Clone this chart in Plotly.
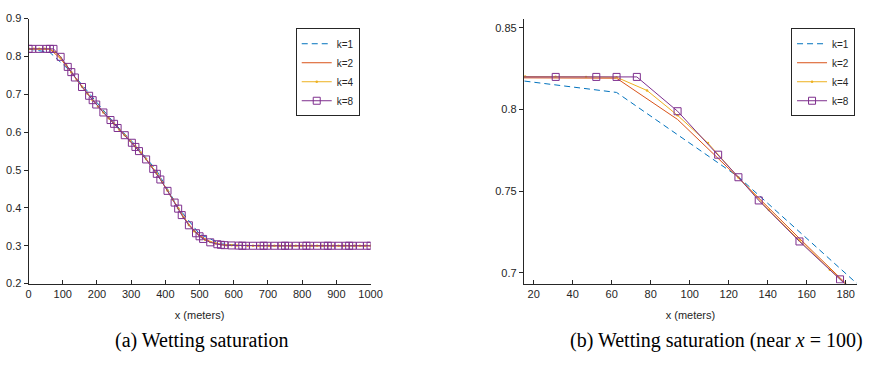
import plotly.graph_objects as go

# ---------------- data ----------------
x_k1 = [0, 62.5, 125, 187.5, 250, 312.5, 375, 437.5, 500, 562.5, 625, 687.5,
        750, 812.5, 875, 937.5, 1000]
y_k1 = [0.8197, 0.8105, 0.7588, 0.6905, 0.6245, 0.566, 0.498, 0.401, 0.331,
        0.305, 0.3008, 0.3002, 0.300, 0.300, 0.300, 0.300, 0.300]

x_k2 = [0, 31.25, 62.5, 93.75, 125, 156.25, 187.5, 218.75, 250, 281.25, 312.5,
        343.75, 375, 406.25, 437.5, 468.75, 500, 531.25, 562.5, 593.75, 625,
        656.25, 687.5, 718.75, 750, 781.25, 812.5, 843.75, 875, 906.25, 937.5,
        968.75, 1000]
y_k2 = [0.8195, 0.8195, 0.8192, 0.7940, 0.7582, 0.7212, 0.6850, 0.6525, 0.6225,
        0.5925, 0.5625, 0.529, 0.4915, 0.446, 0.399, 0.356, 0.327, 0.311,
        0.3035, 0.301, 0.3003, 0.300, 0.300, 0.300, 0.300, 0.300, 0.300, 0.300,
        0.300, 0.300, 0.300, 0.300, 0.300]

x_k4 = [0, 15.625, 31.25, 46.875, 62.5, 78.125, 93.75, 109.375, 125, 140.625,
        156.25, 171.875, 187.5, 203.125, 218.75, 234.375, 250, 265.625, 281.25,
        296.875, 312.5, 328.125, 343.75, 359.375, 375, 390.625, 406.25, 421.875,
        437.5, 453.125, 468.75, 484.375, 500, 515.625, 531.25, 546.875, 562.5,
        578.125, 593.75, 609.375, 625, 640.625, 656.25, 671.875, 687.5, 703.125,
        718.75, 734.375, 750, 765.625, 781.25, 796.875, 812.5, 828.125, 843.75,
        859.375, 875, 890.625, 906.25, 921.875, 937.5, 953.125, 968.75, 984.375,
        1000]
y_k4 = [0.8203, 0.8203, 0.8201, 0.8200, 0.8198, 0.8117, 0.7965, 0.7795, 0.7585,
        0.7385, 0.7200, 0.7020, 0.6845, 0.668, 0.652, 0.637, 0.622, 0.6065,
        0.592, 0.577, 0.562, 0.546, 0.529, 0.510, 0.491, 0.468, 0.446, 0.422,
        0.399, 0.375, 0.355, 0.338, 0.326, 0.316, 0.310, 0.306, 0.303, 0.3015,
        0.301, 0.3005, 0.3003, 0.300, 0.300, 0.300, 0.300, 0.300, 0.300, 0.300,
        0.300, 0.300, 0.300, 0.300, 0.300, 0.300, 0.300, 0.300, 0.300, 0.300,
        0.300, 0.300, 0.300, 0.300, 0.300, 0.300, 0.300]

x_k8 = [0, 10.4, 31.3, 52.1, 62.5, 72.9, 93.8, 114.6, 125, 135.4, 156.3, 177.1,
        187.5, 197.9, 218.8, 239.6, 250, 260.4, 281.3, 302.1, 312.5, 322.9,
        343.8, 364.6, 375, 385.4, 406.3, 427.1, 437.5, 447.9, 468.8, 489.6, 500,
        510.4, 531.3, 552.1, 562.5, 572.9, 593.8, 614.6, 625, 635.4, 656.3,
        677.1, 687.5, 697.9, 718.8, 739.6, 750, 760.4, 781.3, 802.1, 812.5,
        822.9, 843.8, 864.6, 875, 885.4, 906.3, 927.1, 937.5, 947.9, 968.8,
        989.6, 1000]
y_k8 = [0.820, 0.820, 0.820, 0.820, 0.820, 0.820, 0.799, 0.7724, 0.7586, 0.7444,
        0.7193, 0.6961, 0.6845, 0.673, 0.652, 0.632, 0.622, 0.611, 0.592, 0.572,
        0.561, 0.550, 0.528, 0.503, 0.490, 0.475, 0.445, 0.414, 0.398, 0.381,
        0.354, 0.333, 0.325, 0.318, 0.309, 0.304, 0.3025, 0.3015, 0.3008,
        0.3004, 0.300, 0.300, 0.300, 0.300, 0.300, 0.300, 0.300, 0.300, 0.300,
        0.300, 0.300, 0.300, 0.300, 0.300, 0.300, 0.300, 0.300, 0.300, 0.300,
        0.300, 0.300, 0.300, 0.300, 0.300, 0.300]

series_names = ["k=1", "k=2", "k=4", "k=8"]
colors = ["#0072BD", "#D95319", "#EDB120", "#7E2F8E"]

left_xticks = [0, 100, 200, 300, 400, 500, 600, 700, 800, 900, 1000]
left_yticks = [0.2, 0.3, 0.4, 0.5, 0.6, 0.7, 0.8, 0.9]
left_ytext = ["0.2", "0.3", "0.4", "0.5", "0.6", "0.7", "0.8", "0.9"]
right_xticks = [20, 40, 60, 80, 100, 120, 140, 160, 180]
right_yticks = [0.7, 0.75, 0.8, 0.85]
right_ytext = ["0.7", "0.75", "0.8", "0.85"]

caption_a = "(a) Wetting saturation"
caption_b = "(b) Wetting saturation (near <i>x</i> = 100)"
xlabel = "x (meters)"

# ---------------- figure ----------------
fig = go.Figure()
data = [(x_k1, y_k1), (x_k2, y_k2), (x_k4, y_k4), (x_k8, y_k8)]

def add_series(xa, ya, legend):
    for i, (xs, ys) in enumerate(data):
        kw = dict(x=xs, y=ys, name=series_names[i], xaxis=xa, yaxis=ya,
                  legend=legend, mode="lines",
                  line=dict(color=colors[i], width=1))
        if i == 0:
            kw["line"]["dash"] = "6px,4px"
        elif i == 2:
            kw["mode"] = "lines+markers"
            kw["marker"] = dict(symbol="circle", size=2.5, color=colors[i])
        elif i == 3:
            kw["mode"] = "lines+markers"
            kw["marker"] = dict(symbol="square-open", size=7, color=colors[i],
                                line=dict(width=1, color=colors[i]))
        fig.add_trace(go.Scatter(**kw))

add_series("x", "y", "legend")
add_series("x2", "y2", "legend2")

axcol = "#262626"
sans = "Liberation Sans, Arial, sans-serif"
tickfont = dict(family=sans, size=11, color=axcol)
common = dict(showgrid=False, zeroline=False, showline=True, linecolor=axcol,
              linewidth=1, tickfont=tickfont, tickcolor=axcol, ticklen=4,
              tickwidth=1, mirror=False)

top = 1 - 13 / 367
bot = 1 - 287 / 367

legfont = dict(family=sans, size=10, color=axcol)

fig.update_layout(
    width=869, height=367,
    margin=dict(l=0, r=0, t=0, b=0),
    paper_bgcolor="white", plot_bgcolor="white",
    showlegend=True,
    xaxis=dict(domain=[26 / 869, 374 / 869], range=[0, 1000], anchor="y",
               tickvals=left_xticks, ticks="inside",
               title=dict(text=xlabel, standoff=12,
                          font=dict(family=sans, size=11, color=axcol)),
               **common),
    yaxis=dict(domain=[bot, top], range=[0.2, 0.9], anchor="x",
               tickvals=left_yticks, ticktext=left_ytext, ticks="outside",
               **common),
    xaxis2=dict(domain=[530 / 869, 1.0], range=[14.96, 185.8], anchor="y2",
                tickvals=right_xticks, ticks="inside",
                title=dict(text=xlabel, standoff=12,
                           font=dict(family=sans, size=11, color=axcol)),
                **common),
    yaxis2=dict(domain=[bot, top], range=[0.6935, 0.8557], anchor="x2",
                tickvals=right_yticks, ticktext=right_ytext, ticks="outside",
                **common),
    legend=dict(x=363 / 869, y=1 - 23 / 367, xanchor="right", yanchor="top",
                bgcolor="white", bordercolor="#262626", borderwidth=1,
                font=legfont, itemwidth=30, tracegroupgap=0),
    legend2=dict(x=867 / 869, y=1 - 23 / 367, xanchor="right", yanchor="top",
                 bgcolor="white", bordercolor="#262626", borderwidth=1,
                 font=legfont, itemwidth=30, tracegroupgap=0),
    annotations=[
        dict(text=caption_a, x=202 / 869, y=1 - 346 / 367, xref="paper",
             yref="paper", showarrow=False, xanchor="center", yanchor="middle",
             font=dict(family="Liberation Serif, Times New Roman, serif",
                       size=20, color="black")),
        dict(text=caption_b, x=726 / 869, y=1 - 346 / 367, xref="paper",
             yref="paper", showarrow=False, xanchor="center", yanchor="middle",
             font=dict(family="Liberation Serif, Times New Roman, serif",
                       size=20, color="black")),
    ],
)

fig.write_html("out.html")
